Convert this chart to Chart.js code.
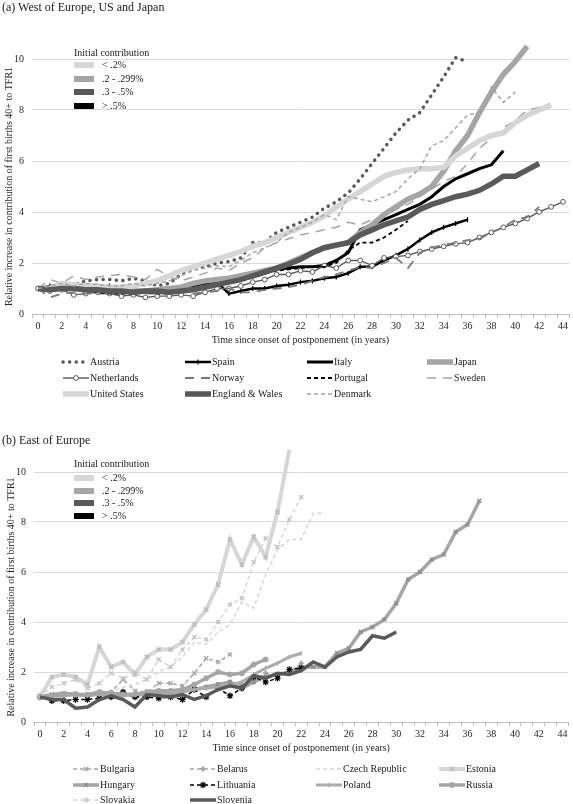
<!DOCTYPE html>
<html>
<head>
<meta charset="utf-8">
<script src="https://cdn.jsdelivr.net/npm/chart.js@4.4.1/dist/chart.umd.min.js"></script>
<style>
  body { margin: 0; width: 573px; height: 804px; background: #fff; position: relative; overflow: hidden;
         font-family: "Liberation Serif", "Times New Roman", serif; color: #1a1a1a; }
  .panel-title { position: absolute; left: 2px; font-size: 12px; line-height: 14px; white-space: nowrap; }
  .wrap { position: absolute; left: 0; width: 573px; }
  .inset { position: absolute; font-size: 10px; line-height: 12px; }
  .inset div { position: absolute; white-space: nowrap; }
</style>
</head>
<body>
<div class="wrap" style="top:0;height:412px"><canvas id="west"></canvas></div>
<div class="wrap" style="top:420px;height:384px"><canvas id="east"></canvas></div>
<div class="panel-title" style="top:0px">(a) West of Europe, US and Japan</div>
<div class="panel-title" style="top:433px">(b) East of Europe</div>
<div class="inset" id="insetA" style="left:74px;top:47px"></div>
<div class="inset" id="insetB" style="left:74px;top:458px"></div>
<script>
// years since onset of postponement
const years = ['0','1','2','3','4','5','6','7','8','9','10','11','12','13','14','15','16','17','18','19','20','21','22',
  '23','24','25','26','27','28','29','30','31','32','33','34','35','36','37','38','39','40','41','42','43','44'];
const yTicks = [0, 2, 4, 6, 8, 10];

// inset legend
const contribLabels = ['< .2%', '.2 - .299%', '.3 - .5%', '> .5%'];

const LIGHT = '#d6d6d6', MID = '#a5a5a5', DARK = '#595959', BLACK = '#000000';
const contribColors = [LIGHT, MID, DARK, BLACK];

// (a) West of Europe, US and Japan
const austria = [1.0,1.05,1.1,1.15,1.3,1.35,1.35,1.3,1.4,1.3,1.1,1.2,1.55,1.8,1.85,2.0,2.05,2.2,2.8,2.8,3.2,3.4,3.6,3.8,4.15,4.4,4.75,5.3,5.9,6.5,7.1,7.6,7.9,8.6,9.3,10.05,9.9];
const spain = [1.0,1.1,1.1,1.15,1.1,1.1,1.1,1.05,0.95,0.9,0.95,1.0,1.05,1.1,1.2,1.25,0.8,0.9,1.0,1.0,1.1,1.15,1.25,1.3,1.4,1.45,1.6,1.85,1.85,2.1,2.3,2.55,2.9,3.2,3.4,3.55,3.7];
const italy = [1.0,0.95,1.0,1.0,0.95,0.95,0.9,0.9,0.85,0.85,0.85,0.85,0.9,0.95,1.05,1.15,1.25,1.35,1.45,1.6,1.75,1.8,1.85,1.85,1.9,2.1,2.4,3.3,3.5,3.7,3.9,4.1,4.3,4.6,5.0,5.3,5.5,5.7,5.85,6.4];
const japan = [1.0,1.0,1.05,1.0,1.0,0.95,0.95,0.9,0.9,0.9,0.95,1.0,1.05,1.2,1.3,1.35,1.4,1.5,1.6,1.7,1.8,2.0,2.2,2.4,2.6,2.7,2.8,3.2,3.5,3.9,4.2,4.5,4.7,5.0,5.6,6.4,7.0,7.9,8.7,9.4,9.9,10.5];
const netherlands = [1.0,0.9,0.95,0.75,0.8,0.85,0.8,0.7,0.75,0.65,0.7,0.7,0.75,0.7,0.85,1.0,1.0,1.1,1.25,1.35,1.55,1.55,1.7,1.65,1.9,1.8,2.1,2.1,1.9,2.2,2.25,2.3,2.45,2.55,2.65,2.75,2.8,3.0,3.2,3.4,3.55,3.75,4.0,4.2,4.4];
const norway = [1.0,0.65,0.8,0.85,0.8,0.8,0.8,0.8,0.8,0.8,0.8,0.85,0.9,0.8,0.85,0.9,1.0,0.85,0.85,0.95,1.0,1.05,1.15,1.3,1.45,1.55,1.7,1.85,1.8,2.0,2.2,1.8,2.4,2.6,2.7,2.8,2.9,2.95,3.2,3.4,3.7,3.8,4.2];
const portugal = [1.0,0.95,1.0,0.95,0.9,0.85,0.8,0.8,0.8,0.85,0.8,0.8,0.9,1.0,1.1,1.2,1.3,1.4,1.5,1.6,1.7,1.75,1.8,1.85,1.85,2.0,2.5,2.8,2.8,3.0,3.3,3.65];
const sweden = [1.0,1.35,1.2,1.5,1.35,1.45,1.5,1.55,1.45,1.35,1.75,1.45,1.3,1.45,1.6,1.8,1.7,2.0,2.2,2.6,2.8,2.95,3.1,3.2,3.3,3.4,3.6,3.5,3.7,3.8,4.1,4.3,4.6,4.9,5.2,5.4,5.9,6.5,6.9,7.3,7.6,8.0,8.1,8.2];
const unitedStates = [1.0,1.0,1.2,1.15,1.1,1.1,1.05,1.05,1.1,1.2,1.3,1.5,1.7,1.85,2.0,2.15,2.3,2.45,2.65,2.8,3.0,3.2,3.4,3.6,3.85,4.2,4.5,4.8,5.1,5.4,5.55,5.65,5.7,5.7,5.75,6.2,6.5,6.8,7.0,7.1,7.5,7.8,8.0,8.2];
const englandWales = [1.0,0.95,1.0,1.0,0.95,0.95,0.9,0.9,0.85,0.9,0.9,0.85,0.9,0.95,1.05,1.15,1.25,1.35,1.5,1.65,1.8,1.95,2.15,2.4,2.6,2.7,2.8,3.1,3.3,3.5,3.65,3.8,4.1,4.3,4.45,4.6,4.7,4.85,5.1,5.4,5.4,5.65,5.9];
const denmark = [1.0,1.1,1.2,1.1,1.2,1.15,1.1,1.1,1.2,1.1,1.2,1.3,1.5,1.7,1.8,1.9,1.85,2.1,2.4,2.6,2.8,3.2,3.4,3.6,3.9,3.7,4.6,4.5,4.4,4.6,4.8,5.3,5.7,6.6,6.8,7.3,7.8,7.9,8.9,8.3,8.7];

// (b) East of Europe
const bulgaria = [1.0,1.1,1.1,1.15,1.05,1.2,1.2,1.7,1.25,1.2,1.55,1.55,1.45,1.95,2.55,2.4,2.7];
const belarus = [1.0,1.05,1.05,1.1,1.05,1.1,1.2,1.1,1.0,1.1,1.1,1.1,1.2,1.3,1.4,1.5,1.6,1.5,1.6,1.95,1.85,2.0,2.35];
const czech = [1.0,1.1,1.1,1.2,1.1,1.2,1.2,1.4,1.5,1.7,2.0,2.2,2.6,3.2,3.1,3.6,3.9,4.8,4.55,5.9,6.9,7.3,7.3,8.35,8.35];
const estonia = [1.0,1.8,1.9,1.8,1.5,3.0,2.2,2.4,1.9,2.6,2.9,2.9,3.2,3.9,4.5,5.5,7.3,6.3,7.4,6.6,8.4,10.9];
const hungary = [1.0,1.1,1.15,1.1,1.05,1.15,1.15,1.1,1.1,1.15,1.2,1.2,1.25,1.3,1.4,1.5,1.6,1.35,1.6,1.8,1.9,2.0,2.2,2.2,2.2,2.75,2.95,3.6,3.8,4.1,4.75,5.7,6.0,6.5,6.7,7.6,7.9,8.85];
const lithuania = [1.0,0.85,0.85,0.9,0.9,0.95,1.0,1.2,1.0,1.0,0.95,1.0,0.9,1.3,1.0,1.35,1.05,1.35,1.8,1.6,1.75,2.1,2.15];
const poland = [1.0,1.05,1.05,1.1,1.05,1.1,1.1,1.05,1.1,1.1,1.15,1.15,1.2,1.3,1.35,1.4,1.45,1.6,1.9,2.15,2.35,2.6,2.75];
const russia = [1.0,1.05,1.1,1.1,1.1,1.2,1.15,1.1,1.1,1.2,1.25,1.25,1.3,1.5,1.75,2.0,1.9,1.95,2.3,2.5];
const slovakia = [1.0,1.4,1.55,1.7,1.35,1.55,1.95,1.75,2.0,1.7,2.5,2.2,2.9,3.4,3.3,4.0,4.7,4.95,6.4,7.35,7.0,8.1,9.0];
const slovenia = [1.0,0.9,0.9,0.55,0.6,0.9,1.05,0.9,0.6,1.1,1.05,1.0,1.1,0.9,1.05,1.3,1.45,1.35,1.85,1.75,1.95,1.9,2.05,2.4,2.2,2.6,2.8,2.9,3.45,3.35,3.6];

function series(label, data, color, width, extra) {
  return Object.assign({
    label: label, data: data, borderColor: color, backgroundColor: color, borderWidth: width,
    tension: 0, fill: false, clip: false, pointRadius: 0, pointHoverRadius: 0,
    pointBorderColor: color, pointBackgroundColor: color, pointBorderWidth: 1
  }, extra || {});
}

const westSets = [
  series('Austria', austria, DARK, 3.5, {borderDash: [0.1, 6.5], borderCapStyle: 'round'}),
  series('Spain', spain, BLACK, 2.5, {pointRadius: 2.5, pointStyle: 'line', pointRotation: 90, pointBorderWidth: 1.2}),
  series('Italy', italy, BLACK, 3),
  series('Japan', japan, MID, 5.5),
  series('Netherlands', netherlands, DARK, 1.4, {pointRadius: 2.4, pointStyle: 'circle', pointBackgroundColor: '#fff', pointBorderColor: DARK}),
  series('Norway', norway, '#7a7a7a', 1.8, {borderDash: [9, 7]}),
  series('Portugal', portugal, BLACK, 1.8, {borderDash: [4, 3]}),
  series('Sweden', sweden, MID, 1.5, {borderDash: [9, 7]}),
  series('United States', unitedStates, LIGHT, 5.5),
  series('England & Wales', englandWales, DARK, 5.5),
  series('Denmark', denmark, MID, 1.5, {borderDash: [4, 3]})
];

const eastSets = [
  series('Bulgaria', bulgaria, MID, 1.5, {borderDash: [4, 3], pointRadius: 2.8, pointStyle: 'crossRot', pointBorderWidth: 1.4}),
  series('Belarus', belarus, MID, 1.5, {borderDash: [4, 3], pointRadius: 2.4, pointStyle: 'rectRot'}),
  series('Czech Republic', czech, LIGHT, 1.5, {borderDash: [4, 3]}),
  series('Estonia', estonia, LIGHT, 4, {pointRadius: 3, pointStyle: 'crossRot', pointBorderColor: '#bcbcbc', pointBorderWidth: 1.5}),
  series('Hungary', hungary, MID, 3.5, {pointRadius: 2.8, pointStyle: 'crossRot', pointBorderColor: '#8c8c8c', pointBorderWidth: 1.3}),
  series('Lithuania', lithuania, BLACK, 1.5, {borderDash: [4, 3], pointRadius: 3.2, pointStyle: 'star', pointBorderWidth: 1.2}),
  series('Poland', poland, '#ababab', 3, {pointRadius: 2.5, pointStyle: 'line', pointRotation: 90, pointBorderWidth: 1.2}),
  series('Russia', russia, MID, 3.5, {pointRadius: 2.5, pointStyle: 'circle'}),
  series('Slovakia', slovakia, LIGHT, 1.5, {borderDash: [4, 3], pointRadius: 2.8, pointStyle: 'crossRot', pointBorderColor: '#c2c2c2', pointBorderWidth: 1.4}),
  series('Slovenia', slovenia, DARK, 3.5)
];

// later series drawn on top, like the original
[westSets, eastSets].forEach(function(sets) {
  sets.forEach(function(ds, i) { ds.order = sets.length - i; });
});

function drawMarker(ctx, ds, x, y) {
  const r = ds.pointRadius;
  if (!r) return;
  ctx.save();
  ctx.setLineDash([]);
  ctx.fillStyle = ds.pointBackgroundColor;
  ctx.strokeStyle = ds.pointBorderColor;
  ctx.lineWidth = ds.pointBorderWidth;
  ctx.beginPath();
  if (ds.pointStyle === 'circle') {
    ctx.arc(x, y, r, 0, Math.PI * 2); ctx.fill(); ctx.stroke();
  } else if (ds.pointStyle === 'rectRot') {
    ctx.moveTo(x, y - r); ctx.lineTo(x + r, y); ctx.lineTo(x, y + r); ctx.lineTo(x - r, y); ctx.closePath();
    ctx.fill(); ctx.stroke();
  } else if (ds.pointStyle === 'crossRot' || ds.pointStyle === 'star') {
    const d = r * 0.75;
    ctx.moveTo(x - d, y - d); ctx.lineTo(x + d, y + d);
    ctx.moveTo(x - d, y + d); ctx.lineTo(x + d, y - d);
    if (ds.pointStyle === 'star') { ctx.moveTo(x, y - r); ctx.lineTo(x, y + r); ctx.moveTo(x - r, y); ctx.lineTo(x + r, y); }
    ctx.stroke();
  } else if (ds.pointStyle === 'line') {
    ctx.moveTo(x, y - r); ctx.lineTo(x, y + r); ctx.stroke();
  }
  ctx.restore();
}

// legend laid out in a grid of four columns below the axis
const gridLegend = {
  id: 'gridLegend',
  afterDraw(chart, args, opts) {
    const ctx = chart.ctx;
    ctx.save();
    ctx.font = '10px "Liberation Serif"';
    ctx.textBaseline = 'middle';
    chart.data.datasets.forEach(function(ds, i) {
      const x = opts.cols[i % 4], y = opts.rows[Math.floor(i / 4)], w = opts.sample;
      ctx.save();
      ctx.strokeStyle = ds.borderColor;
      ctx.lineWidth = ds.borderWidth;
      ctx.setLineDash(ds.borderDash || []);
      ctx.lineCap = ds.borderCapStyle || 'butt';
      ctx.beginPath();
      ctx.moveTo(x, y); ctx.lineTo(x + w, y);
      ctx.stroke();
      ctx.restore();
      drawMarker(ctx, ds, x + w / 2, y);
      ctx.fillStyle = '#1a1a1a';
      ctx.fillText(ds.label, x + w + 1, y);
    });
    ctx.restore();
  }
};

function makeChart(id, sets, padding, legendPos) {
  return new Chart(document.getElementById(id), {
    type: 'line',
    data: { labels: years, datasets: sets },
    options: {
      responsive: true,
      maintainAspectRatio: false,
      animation: false,
      layout: { padding: padding },
      plugins: { legend: { display: false }, tooltip: { enabled: false }, gridLegend: legendPos },
      scales: {
        x: {
          offset: true,
          grid: { offset: true, drawOnChartArea: false, tickLength: 4, color: '#bfbfbf' },
          border: { color: '#bfbfbf' },
          ticks: {
            autoSkip: false, maxRotation: 0, padding: 2, color: '#262626',
            font: { family: 'Liberation Serif', size: 10 },
            callback: function(v, i) { return i % 2 === 0 ? years[i] : ''; }
          },
          title: {
            display: true, text: 'Time since onset of postponement (in years)', color: '#262626',
            font: { family: 'Liberation Serif', size: 10 }, padding: { top: 0, bottom: 2 }
          },
          afterFit: function(s) { s.height = 34; }
        },
        y: {
          min: 0, max: 10,
          grid: { color: '#d9d9d9', drawTicks: false },
          border: { display: false },
          ticks: { stepSize: 2, padding: 8, color: '#262626', font: { family: 'Liberation Serif', size: 10 } },
          afterBuildTicks: function(s) { s.ticks = yTicks.map(function(v) { return { value: v }; }); },
          title: {
            display: true, text: 'Relative increase in contribution of first births 40+ to TFR1', color: '#262626',
            font: { family: 'Liberation Serif', size: 10 }, padding: { top: 3, bottom: 0 }
          },
          afterFit: function(s) { s.width = 32; }
        }
      }
    },
    plugins: [gridLegend]
  });
}

makeChart('west', westSets, { top: 59, bottom: 64, left: 0, right: 4 },
  { cols: [63, 185, 307, 427], rows: [362, 378, 394], sample: 26 });
makeChart('east', eastSets, { top: 52, bottom: 48, left: 2, right: 2 },
  { cols: [73, 190, 316, 439], rows: [349, 365, 380], sample: 26 });

function buildInset(id, rowTops) {
  const box = document.getElementById(id);
  const t = document.createElement('div');
  t.textContent = 'Initial contribution';
  t.style.left = '0px'; t.style.top = '0px';
  box.appendChild(t);
  contribLabels.forEach(function(lab, i) {
    const sw = document.createElement('div');
    sw.style.left = '0px'; sw.style.top = (rowTops[i] - 3) + 'px';
    sw.style.width = '20px'; sw.style.height = '6px'; sw.style.background = contribColors[i];
    box.appendChild(sw);
    const tx = document.createElement('div');
    tx.textContent = lab;
    tx.style.left = '28px'; tx.style.top = (rowTops[i] - 6) + 'px';
    box.appendChild(tx);
  });
}
buildInset('insetA', [18, 31.5, 45, 58.5]);
buildInset('insetB', [20, 33, 45, 58]);
</script>
</body>
</html>
